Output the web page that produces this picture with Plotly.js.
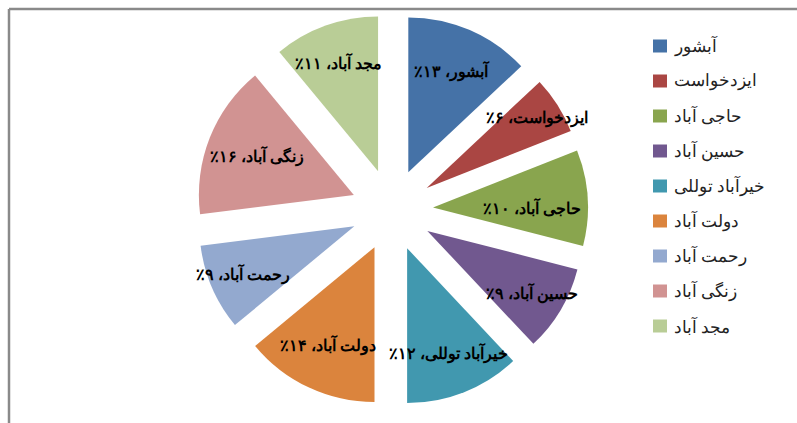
<!DOCTYPE html>
<html>
<head>
<meta charset="utf-8">
<script src="https://cdn.plot.ly/plotly-3.0.1.min.js"></script>
<style>
html,body{margin:0;padding:0;background:#fff;}
#chart{width:797px;height:423px;}
</style>
</head>
<body>
<div id="chart"></div>
<script>
var labels = ["آبشور", "ایزدخواست", "حاجی آباد", "حسین آباد", "خیرآباد توللی", "دولت آباد", "رحمت آباد", "زنگی آباد", "مجد آباد"];
var percents = [13, 6, 10, 9, 12, 14, 9, 16, 11];
var colors = ["#4572A7", "#AA4643", "#89A54E", "#71588F", "#4198AF", "#DB843D", "#93A9CF", "#D19392", "#B9CD96"];

function toPersian(n) {
  var d = "۰۱۲۳۴۵۶۷۸۹";
  return String(n).replace(/[0-9]/g, function (c) { return d[+c]; });
}
var RLM = "\u200F";
var sliceText = labels.map(function (l, i) {
  return RLM + l + "، " + toPersian(percents[i]) + "٪" + RLM;
});

var W = 797, H = 423;
var fontFam = "'Times New Roman', 'Liberation Serif', serif";

var trace = {
  type: "pie",
  labels: labels,
  values: percents,
  text: sliceText,
  textinfo: "text",
  textposition: "inside",
  insidetextorientation: "horizontal",
  textfont: {family: fontFam, size: 16, color: "#000", weight: "bold"},
  marker: {colors: colors, line: {width: 0}},
  pull: percents.map(function () { return 0.265; }),
  sort: false,
  direction: "clockwise",
  rotation: 0,
  hoverinfo: "none",
  showlegend: false,
  domain: {x: [196 / W, 588 / W], y: [17 / H, 409 / H]}
};

var shapes = [
  {type: "line", xref: "paper", yref: "paper", x0: 9 / W, x1: 1, y0: 1 - 9 / H, y1: 1 - 9 / H, line: {color: "#8a8a8a", width: 2.5}},
  {type: "line", xref: "paper", yref: "paper", x0: 9 / W, x1: 9 / W, y0: 0, y1: 1 - 9 / H, line: {color: "#8a8a8a", width: 2.5}}
];
var annotations = [];
labels.forEach(function (l, i) {
  var cy = 46 + 35 * i;
  shapes.push({type: "rect", xref: "paper", yref: "paper",
    x0: 653 / W, x1: 667 / W, y0: 1 - (cy + 6.5) / H, y1: 1 - (cy - 6.5) / H,
    fillcolor: colors[i], line: {width: 0}});
  annotations.push({xref: "paper", yref: "paper", x: 672 / W, y: 1 - cy / H,
    xanchor: "left", yanchor: "middle", showarrow: false, text: l,
    font: {family: fontFam, size: 17, color: "#222"}});
});

var layout = {
  width: W, height: H,
  margin: {l: 0, r: 0, t: 0, b: 0},
  paper_bgcolor: "#fff",
  showlegend: false,
  uniformtext: {minsize: 16, mode: "show"},
  shapes: shapes,
  annotations: annotations
};

Plotly.newPlot("chart", [trace], layout, {displayModeBar: false, staticPlot: true});
</script>
</body>
</html>
